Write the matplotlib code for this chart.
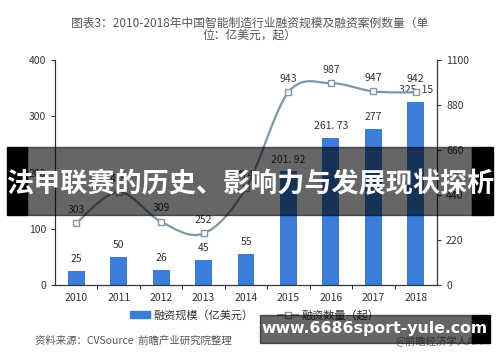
import matplotlib.pyplot as plt
from matplotlib.path import Path
from matplotlib.patches import PathPatch, Rectangle
from matplotlib.lines import Line2D

plt.rcParams['font.family'] = ['Noto Sans CJK SC', 'DejaVu Sans']

# Dados
anos = ["2010", "2011", "2012", "2013", "2014", "2015", "2016", "2017", "2018"]
escala = [25, 50, 26, 45, 55, 201.92, 261.73, 277, 325.15]
escala_txt = ["25", "50", "26", "45", "55", "201. 92", "261. 73", "277", "325. 15"]
casos = [303, 455, 309, 252, 474, 943, 987, 947, 942]

titulo = "图表3：2010-2018年中国智能制造行业融资规模及融资案例数量（单\n位：亿美元，起）"
leg_barra = "融资规模（亿美元）"
leg_linha = "融资数量（起）"
fonte = "资料来源：CVSource  前瞻产业研究院整理"
marca = "@前瞻经济学人APP"
faixa = "法甲联赛的历史、影响力与发展现状探析"
site = "www.6686sport-yule.com"

azul = "#3a7ddb"
cinza_linha = "#7f97a6"

fig = plt.figure(figsize=(5, 3.62), dpi=100)
ax = fig.add_axes([0.11, 0.2127, 0.764, 0.6213])
ax2 = ax.twinx()

x = list(range(len(anos)))
ax.bar(x, escala, width=0.4, color=azul, zorder=2)
for xi, v, t in zip(x, escala, escala_txt):
    ax.annotate(t, (xi, v), xytext=(0, 5), textcoords="offset points",
                ha="center", va="bottom", fontsize=7.5, color="#333333")

ax.set_xlim(-0.5, len(anos) - 0.5)
ax.set_ylim(0, 400)
ax.set_yticks([0, 100, 200, 300, 400])
ax.set_xticks(x)
ax.set_xticklabels(anos)
ax.set_xticks([i + 0.5 for i in x[:-1]], minor=True)
ax.tick_params(axis="x", which="major", length=0, pad=6, labelsize=7.5, colors="#333333")
ax.tick_params(axis="x", which="minor", length=3, direction="out")
ax.tick_params(axis="y", length=3, labelsize=7.5, colors="#333333")

ax2.set_ylim(0, 1100)
ax2.set_yticks([0, 220, 440, 660, 880, 1100])
ax2.tick_params(axis="y", length=3, labelsize=7.5, colors="#333333")

for a in (ax, ax2):
    a.spines["top"].set_visible(False)
    for s in ("left", "right", "bottom"):
        a.spines[s].set_color("#333333")
        a.spines[s].set_linewidth(0.8)

# linha suavizada (bezier)
verts = [(x[0], casos[0])]
codes = [Path.MOVETO]
n = len(x)
for i in range(n - 1):
    p0 = (x[max(i - 1, 0)], casos[max(i - 1, 0)])
    p1 = (x[i], casos[i])
    p2 = (x[i + 1], casos[i + 1])
    p3 = (x[min(i + 2, n - 1)], casos[min(i + 2, n - 1)])
    c1 = (p1[0] + (p2[0] - p0[0]) / 6, p1[1] + (p2[1] - p0[1]) / 6)
    c2 = (p2[0] - (p3[0] - p1[0]) / 6, p2[1] - (p3[1] - p1[1]) / 6)
    verts += [c1, c2, p2]
    codes += [Path.CURVE4] * 3
ax2.add_patch(PathPatch(Path(verts, codes), facecolor="none",
                        edgecolor=cinza_linha, linewidth=1.6, zorder=3))
ax2.plot(x, casos, linestyle="none", marker="s", markersize=5,
         markerfacecolor="white", markeredgecolor=cinza_linha,
         markeredgewidth=1.0, zorder=4)
for xi, v in zip(x, casos):
    ax2.annotate(str(v), (xi, v), xytext=(0, 6), textcoords="offset points",
                 ha="center", va="bottom", fontsize=7.5, color="#333333")

fig.text(0.5, 0.955, titulo, ha="center", va="top", fontsize=8.5,
         color="#555555", linespacing=0.95)

handles = [Rectangle((0, 0), 1, 1, color=azul),
           Line2D([], [], color=cinza_linha, marker="s", markersize=5,
                  markerfacecolor="white", markeredgecolor=cinza_linha)]
fig.legend(handles, [leg_barra, leg_linha], loc="center", ncol=2,
           bbox_to_anchor=(0.51, 0.13), frameon=False, fontsize=8,
           handlelength=1.8, handleheight=0.5, handletextpad=0.3,
           columnspacing=2.2, labelcolor="#333333")

fig.text(0.07, 0.06, fonte, ha="left", va="center", fontsize=7.5,
         color="#555555", style="italic")
fig.text(0.79, 0.06, marca, ha="left", va="center", fontsize=7.5, color="#777777")

# faixas sobrepostas
fig.patches.append(Rectangle((0.014, 1 - 215 / 362), 0.04, 68 / 362,
                             transform=fig.transFigure, color="black", zorder=10))
fig.patches.append(Rectangle((0.054, 1 - 215 / 362), 0.89, 68 / 362,
                             transform=fig.transFigure, color="black", alpha=0.6, zorder=10))
fig.patches.append(Rectangle((0.944, 1 - 215 / 362), 0.042, 68 / 362,
                             transform=fig.transFigure, color="black", zorder=10))
fig.text(0.5, 1 - 184 / 362, faixa, ha="center", va="center", fontsize=19.5,
         color="white", fontweight="bold", zorder=11)

fig.patches.append(Rectangle((0.52, 1 - 343 / 362), 0.424, 28 / 362,
                             transform=fig.transFigure, color="black", alpha=0.6, zorder=10))
fig.patches.append(Rectangle((0.944, 1 - 343 / 362), 0.036, 28 / 362,
                             transform=fig.transFigure, color="black", zorder=10))
fig.text(0.748, 1 - 328 / 362, site, ha="center", va="center", fontsize=11.3,
         color="white", fontweight="bold", family="DejaVu Sans", zorder=11)

fig.savefig("out.png", dpi=100)
